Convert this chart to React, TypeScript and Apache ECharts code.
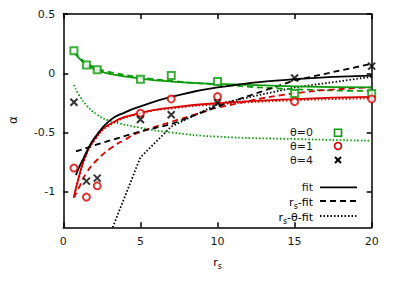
import React, { useEffect, useRef } from 'react';
import * as echarts from 'echarts';

// measured data points (r_s, alpha)
const rsPoints = [0.69, 1.5, 2.2, 5, 7, 10, 15, 20];
const alphaTheta0 = [0.19, 0.07, 0.03, -0.05, -0.02, -0.07, -0.17, -0.17];
const alphaTheta1 = [-0.8, -1.045, -0.95, -0.337, -0.217, -0.197, -0.24, -0.217];
const alphaTheta4 = [-0.245, -0.91, -0.885, -0.39, -0.35, -0.25, -0.04, 0.06];

// fit curves
const green0FitX = [0.69, 1, 1.5, 2.2, 3, 5, 7, 10, 15, 20];
const green0FitY = [0.18, 0.13, 0.07, 0.025, -0.005, -0.045, -0.07, -0.09, -0.11, -0.12];
const green0RsFitX = [0.69, 1, 1.5, 2.2, 3, 5, 7, 10, 15, 20];
const green0RsFitY = [0.18, 0.14, 0.085, 0.04, 0.01, -0.035, -0.065, -0.095, -0.135, -0.15];
const green0RsThFitX = [0.69, 1, 1.5, 2.2, 3, 5, 7, 10, 15, 20];
const green0RsThFitY = [-0.1, -0.18, -0.27, -0.35, -0.4, -0.46, -0.5, -0.535, -0.555, -0.57];

const red1FitX = [0.69, 1, 1.4, 2, 3, 5, 7, 10, 15, 20];
const red1FitY = [-1.04, -0.88, -0.71, -0.56, -0.43, -0.335, -0.29, -0.252, -0.218, -0.2];
const red1RsFitX = [0.69, 1, 1.5, 2.2, 3, 4, 5, 7, 9, 10, 15, 20];
const red1RsFitY = [-1.05, -0.97, -0.84, -0.73, -0.64, -0.56, -0.495, -0.41, -0.33, -0.29, -0.17, -0.12];
const red1RsThFitX = [0.69, 1, 1.4, 2, 3, 5, 7, 10, 15, 20];
const red1RsThFitY = [-1.05, -0.89, -0.72, -0.57, -0.44, -0.34, -0.297, -0.262, -0.228, -0.212];

const black4FitX = [0.82, 1, 1.3, 1.6, 2, 3, 4, 5, 7, 10, 15, 20];
const black4FitY = [-0.86, -0.8, -0.72, -0.64, -0.55, -0.4, -0.33, -0.28, -0.2, -0.12, -0.05, -0.02];
const black4RsFitX = [0.82, 2.2, 5, 7, 10, 15, 20];
const black4RsFitY = [-0.66, -0.6, -0.49, -0.43, -0.28, -0.06, 0.08];
const black4RsThFitX = [2.2, 5, 7, 10, 15, 20];
const black4RsThFitY = [-1.63, -0.71, -0.45, -0.26, -0.12, -0.03];

const xTicks = [0, 5, 10, 15, 20];
const yTicks = [-1, -0.5, 0, 0.5];
const legendTheta = ['θ=0', 'θ=1', 'θ=4'];

const GREEN = '#0a9a0a';
const RED = '#d80000';
const BLACK = '#000000';
const FONT = 'DejaVu Sans';
const TXT = '#1a1a1a';

const zip = (xs: number[], ys: number[]) => xs.map((x, i) => [x, ys[i]]);

const DASH = [6, 4];
const DOT = [1.5, 2];

function lineSeries(xs: number[], ys: number[], color: string, type: any, smooth: boolean) {
  return {
    type: 'line',
    data: zip(xs, ys),
    showSymbol: false,
    symbol: 'none',
    smooth: smooth ? 0.5 : false,
    clip: true,
    lineStyle: { color, width: 1.8, type },
    z: 2,
  };
}

export default function App() {
  const ref = useRef<HTMLDivElement>(null);
  useEffect(() => {
    document.body.style.margin = '0';
    const chart = echarts.init(ref.current!, null, { renderer: 'svg' });
    const gl = 63.3, gr = 371.7, gt = 14, gb = 227.3;
    const axisLine = { show: true, onZero: false, lineStyle: { color: BLACK, width: 1.5 } };
    const tickCommon = { show: true, inside: true, length: 5, lineStyle: { color: BLACK, width: 1.5 } };
    const legendY = [132.7, 146, 160];
    const lineLegY = [187.3, 201, 216];
    const richDef = {
      n: { fontSize: 11, fontFamily: FONT, color: TXT, lineHeight: 16 },
      s: { fontSize: 8, fontFamily: FONT, color: TXT, lineHeight: 8, verticalAlign: 'bottom' },
    };
    const option: any = {
      animation: false,
      backgroundColor: '#ffffff',
      grid: { left: gl, right: 395 - gr, top: gt, bottom: 286 - gb, containLabel: false },
      xAxis: [
        {
          type: 'value', min: 0, max: 20, interval: 5,
          axisLine, axisTick: tickCommon, splitLine: { show: false },
          axisLabel: { fontFamily: FONT, fontSize: 11, color: TXT, margin: 9, customValues: xTicks },
        },
        {
          type: 'value', position: 'top', min: 0, max: 20, interval: 5,
          axisLine, axisTick: tickCommon, splitLine: { show: false }, axisLabel: { show: false },
        },
      ],
      yAxis: [
        {
          type: 'value', min: -1.3, max: 0.5,
          axisLine, splitLine: { show: false },
          axisTick: { ...tickCommon, customValues: yTicks },
          axisLabel: { fontFamily: FONT, fontSize: 11, color: TXT, margin: 8, customValues: yTicks },
        },
        {
          type: 'value', position: 'right', min: -1.3, max: 0.5,
          axisLine, splitLine: { show: false },
          axisTick: { ...tickCommon, customValues: yTicks },
          axisLabel: { show: false },
        },
      ],
      series: [
        lineSeries(green0RsThFitX, green0RsThFitY, GREEN, DOT, true),
        lineSeries(red1RsThFitX, red1RsThFitY, RED, DOT, true),
        lineSeries(black4RsThFitX, black4RsThFitY, BLACK, DOT, false),
        lineSeries(green0RsFitX, green0RsFitY, GREEN, DASH, true),
        lineSeries(red1RsFitX, red1RsFitY, RED, DASH, true),
        lineSeries(black4RsFitX, black4RsFitY, BLACK, DASH, false),
        lineSeries(green0FitX, green0FitY, GREEN, 'solid', true),
        lineSeries(red1FitX, red1FitY, RED, 'solid', true),
        lineSeries(black4FitX, black4FitY, BLACK, 'solid', true),
        {
          type: 'scatter', data: zip(rsPoints, alphaTheta0), symbol: 'emptyRect', symbolSize: 7,
          itemStyle: { color: GREEN, borderColor: GREEN, borderWidth: 1.6 }, z: 5,
        },
        {
          type: 'scatter', data: zip(rsPoints, alphaTheta1), symbol: 'emptyCircle', symbolSize: 7,
          itemStyle: { color: RED, borderColor: RED, borderWidth: 1.6 }, z: 5,
        },
        {
          type: 'scatter', data: zip(rsPoints, alphaTheta4), symbol: 'path://M0,0L10,10M10,0L0,10', symbolSize: 7,
          itemStyle: { color: 'none', borderColor: BLACK, borderWidth: 2 }, z: 5,
        },
      ],
      graphic: [
        {
          type: 'text', x: 217.5, y: 262,
          style: { text: '{n|r}{s|s}', rich: richDef, align: 'center', verticalAlign: 'middle' },
        },
        {
          type: 'text', x: 13, y: 120, rotation: Math.PI / 2,
          style: { text: 'α', fontFamily: FONT, fontSize: 12, fill: TXT, align: 'center', verticalAlign: 'middle' },
        },
        ...legendTheta.map((t, i) => ({
          type: 'text', x: 313, y: legendY[i],
          style: { text: t, fontFamily: FONT, fontSize: 11, fill: TXT, align: 'right', verticalAlign: 'middle' },
        })),
        {
          type: 'rect', shape: { x: 334.5, y: legendY[0] - 3.5, width: 7, height: 7 },
          style: { fill: 'none', stroke: GREEN, lineWidth: 1.6 },
        },
        {
          type: 'circle', shape: { cx: 338, cy: legendY[1], r: 3.5 },
          style: { fill: 'none', stroke: RED, lineWidth: 1.6 },
        },
        {
          type: 'polyline', shape: { points: [[335, legendY[2] - 3], [341, legendY[2] + 3]] },
          style: { stroke: BLACK, lineWidth: 2 },
        },
        {
          type: 'polyline', shape: { points: [[341, legendY[2] - 3], [335, legendY[2] + 3]] },
          style: { stroke: BLACK, lineWidth: 2 },
        },
        {
          type: 'text', x: 313, y: lineLegY[0],
          style: { text: 'fit', fontFamily: FONT, fontSize: 11, fill: TXT, align: 'right', verticalAlign: 'middle' },
        },
        {
          type: 'text', x: 313, y: lineLegY[1] + 1.5,
          style: { text: '{n|r}{s|s}{n|-fit}', rich: richDef, align: 'right', verticalAlign: 'middle' },
        },
        {
          type: 'text', x: 313, y: lineLegY[2] + 1.5,
          style: { text: '{n|r}{s|s}{n|-θ-fit}', rich: richDef, align: 'right', verticalAlign: 'middle' },
        },
        {
          type: 'line', shape: { x1: 320, y1: lineLegY[0], x2: 357, y2: lineLegY[0] },
          style: { stroke: BLACK, lineWidth: 1.8 },
        },
        {
          type: 'line', shape: { x1: 320, y1: lineLegY[1], x2: 357, y2: lineLegY[1] },
          style: { stroke: BLACK, lineWidth: 1.8, lineDash: DASH },
        },
        {
          type: 'line', shape: { x1: 320, y1: lineLegY[2], x2: 357, y2: lineLegY[2] },
          style: { stroke: BLACK, lineWidth: 1.8, lineDash: DOT },
        },
      ],
    };
    chart.setOption(option);
    return () => chart.dispose();
  }, []);
  return <div ref={ref} style={{ width: 395, height: 286 }} />;
}
